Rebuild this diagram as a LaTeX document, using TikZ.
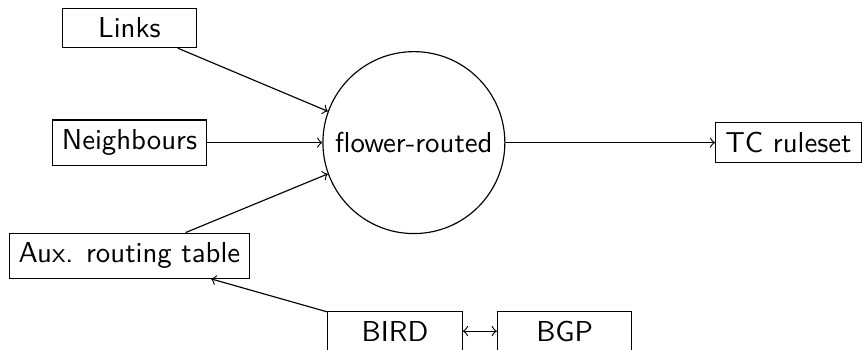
\documentclass[tikz,border=0pt]{standalone}
\usepackage{tikz}
\usetikzlibrary{calc,positioning,arrows,shapes}
\tikzset{
    source box/.style={
        draw,rectangle,
        minimum width=1.64cm,
        font=\sffamily
    },
    daemon/.style={
        draw,circle,
        minimum size=2.22cm,
        font=\sffamily
    },
}
\tikzstyle{arrow} = [->]
\begin{document}
\begin{tikzpicture}
		\useasboundingbox (0,0) rectangle (10.53,-4.27);
		\node[daemon] (flower) at (5.05,-1.74) {flower-routed};
		\foreach \name/\txt/\y/\ang in {links/Links/-0.34/160,neigh/Neighbours/-1.74/180,aux/Aux. routing table/-3.12/200}
		{
		\node[source box] (\name) at (1.58,\y) {\txt};
		\draw[arrow] (\name) -- (flower.\ang);
		}
		\node[source box] (tc) at (9.62,-1.74) {TC ruleset};
		\draw[arrow] (flower) -- (tc);

		\node[source box] (bird) at (4.82,-4.04) {BIRD};
		\node[source box] (bgp) at (6.89,-4.04) {BGP};
		\draw[arrow] (bird) -- (aux);
		\draw[<->] (bird) -- (bgp);
	\end{tikzpicture}
\end{document}
